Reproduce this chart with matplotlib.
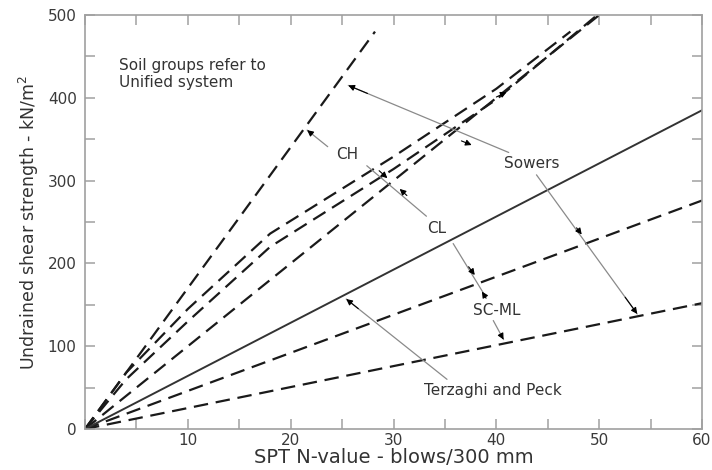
import matplotlib
matplotlib.use("Agg")
import matplotlib.pyplot as plt
from matplotlib.ticker import MultipleLocator

# ---- data ----
ch_x = [0, 28.2]
ch_y = [0, 480]
upper1_x = [0, 4, 10, 18, 30, 40, 47.2]
upper1_y = [0, 68, 145, 236, 329, 411, 480]
upper2_x = [0, 4, 10, 18, 30, 40, 49.8]
upper2_y = [0, 60, 130, 220, 314, 398, 500]
mid_x = [0, 50]
mid_y = [0, 500]
tp_x = [0, 60]
tp_y = [0, 385]
low1_x = [0, 60]
low1_y = [0, 276]
low2_x = [0, 60]
low2_y = [0, 152]

x_ticks = [10, 20, 30, 40, 50, 60]
y_ticks = [0, 100, 200, 300, 400, 500]

fig = plt.figure(figsize=(7.12, 4.70), dpi=100)
ax = fig.add_axes([0.1194, 0.0872, 0.8666, 0.8808])

dash = (0, (6.5, 3.5))
lw = 1.6
col = "#1a1a1a"
for xs, ys in [(ch_x, ch_y), (upper1_x, upper1_y), (upper2_x, upper2_y),
               (mid_x, mid_y), (low1_x, low1_y), (low2_x, low2_y)]:
    ax.plot(xs, ys, color=col, lw=lw, ls=dash, dash_capstyle="butt")
ax.plot(tp_x, tp_y, color="#333333", lw=1.4)

ax.set_xlim(0, 60)
ax.set_ylim(0, 500)
ax.set_xticks(x_ticks)
ax.set_yticks(y_ticks)
ax.xaxis.set_minor_locator(MultipleLocator(5))
ax.yaxis.set_minor_locator(MultipleLocator(50))
ax.tick_params(which="both", direction="in", top=True, right=True,
               color="#a0a0a0", width=1.1, length=7.5,
               labelsize=11, labelcolor="#3a3a3a")
ax.tick_params(axis="x", labeltop=False, pad=3)
ax.tick_params(axis="y", labelright=False, pad=6)
for s in ax.spines.values():
    s.set_color("#a0a0a0")
    s.set_linewidth(1.2)

ax.set_xlabel("SPT N-value - blows/300 mm", fontsize=14, color="#333333", labelpad=0)
ax.set_ylabel("Undrained shear strength - kN/m$^2$", fontsize=12.5, color="#333333", labelpad=5)

tc = "#333333"
fs = 11
ax.text(3.3, 448, "Soil groups refer to\nUnified system", fontsize=fs, color=tc,
        va="top", ha="left", linespacing=1.15)
ax.text(25.5, 331, "CH", fontsize=fs, color=tc, ha="center", va="center")
ax.text(43.4, 321, "Sowers", fontsize=fs, color=tc, ha="center", va="center")
ax.text(34.2, 242, "CL", fontsize=fs, color=tc, ha="center", va="center")
ax.text(40.0, 143, "SC-ML", fontsize=fs, color=tc, ha="center", va="center")
ax.text(39.7, 47, "Terzaghi and Peck", fontsize=fs, color=tc, ha="center", va="center")


def pointer(x0, y0, x1, y1, head=True):
    ax.annotate("", xy=(x1, y1), xytext=(x0, y0),
                arrowprops=dict(arrowstyle="-", color="#8a8a8a", lw=0.9,
                                shrinkA=0, shrinkB=0))
    if head:
        ax.annotate("", xy=(x1, y1),
                    xytext=(x1 - 0.12 * (x1 - x0), y1 - 0.12 * (y1 - y0)),
                    arrowprops=dict(arrowstyle="-|>", color="black", lw=0.8,
                                    mutation_scale=9, shrinkA=0, shrinkB=0))


def head_at(x0, y0, x1, y1):
    ax.annotate("", xy=(x1, y1), xytext=(x0, y0),
                arrowprops=dict(arrowstyle="-|>", color="black", lw=0.8,
                                mutation_scale=9, shrinkA=0, shrinkB=0))


# CH -> steep line
pointer(23.6, 341, 21.6, 361)
# CH -- CL connector
pointer(27.4, 318, 33.2, 257, head=False)
head_at(28.6, 312, 29.4, 303)
head_at(31.3, 282, 30.6, 290)
# Sowers -> steep line
pointer(41.2, 334, 25.6, 415)
head_at(36.6, 348, 37.6, 343)
head_at(40.0, 401, 41.0, 407)
# Sowers -> lowest line
pointer(43.9, 307, 53.7, 139)
head_at(47.8, 243, 48.3, 235)
# CL -> middle-low line
pointer(35.8, 224, 38.7, 165, head=False)
head_at(37.3, 196, 37.9, 186)
head_at(39.0, 158, 38.6, 166)
# SC-ML -> lowest line
pointer(39.7, 131, 40.7, 108)
# Terzaghi and Peck -> solid line
pointer(35.2, 60, 25.4, 157)

fig.savefig("out.png", dpi=100)
